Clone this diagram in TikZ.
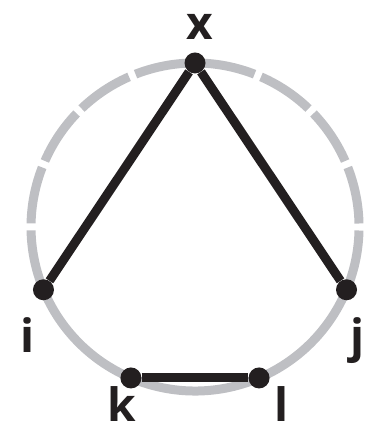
\documentclass[tikz,border=0pt]{standalone}
\usepackage{fontspec}
\setsansfont{Open Sans}
\usetikzlibrary{calc, positioning}
\definecolor{ringgray}{RGB}{190, 191, 195}
\definecolor{inkblack}{RGB}{35, 31, 32}

\begin{document}
\begin{tikzpicture}[x=1pt, y=1pt,
    vtx/.style={circle, fill=inkblack, inner sep=0pt, minimum size=21pt},
    edge/.style={inkblack, line width=9pt},
    ring/.style={ringgray, line width=9pt},
    ringdash/.style={ring, dash pattern=on 57.4pt off 7pt, dash phase=60.9pt},
    lbl/.style={inkblack, font=\sffamily\bfseries\fontsize{46}{46}\selectfont, anchor=base, inner sep=0pt}]
  \useasboundingbox (0,0) rectangle (366,433);
  \coordinate (c) at (195,206);
  % ring: dashed over the top, solid below
  \draw[ringdash] ($(c)+(-22.5:164)$) arc[start angle=-22.5, end angle=202.5, radius=164];
  \draw[ring] ($(c)+(202.5:164)$) arc[start angle=202.5, end angle=337.5, radius=164];
  % vertices
  \node[vtx] (x) at ($(c)+(90:164)$) {};
  \node[vtx] (i) at ($(c)+(202.5:164)$) {};
  \node[vtx] (j) at ($(c)+(-22.5:164)$) {};
  \node[vtx] (k) at ($(c)+(247:164)$) {};
  \node[vtx] (l) at ($(c)+(293:164)$) {};
  % edges
  \draw[edge] (i) -- (x) -- (j);
  \draw[edge] (k) -- (l);
  % labels
  \node[lbl] (xlbl) at (200,393) {x};
  \node[lbl] (ilbl) at (28,80) {i};
  \node[lbl] (jlbl) at (358,80) {j};
  \node[lbl] (klbl) at (122,12) {k};
  \node[lbl] (llbl) at (282,12) {l};
\end{tikzpicture}
\end{document}
